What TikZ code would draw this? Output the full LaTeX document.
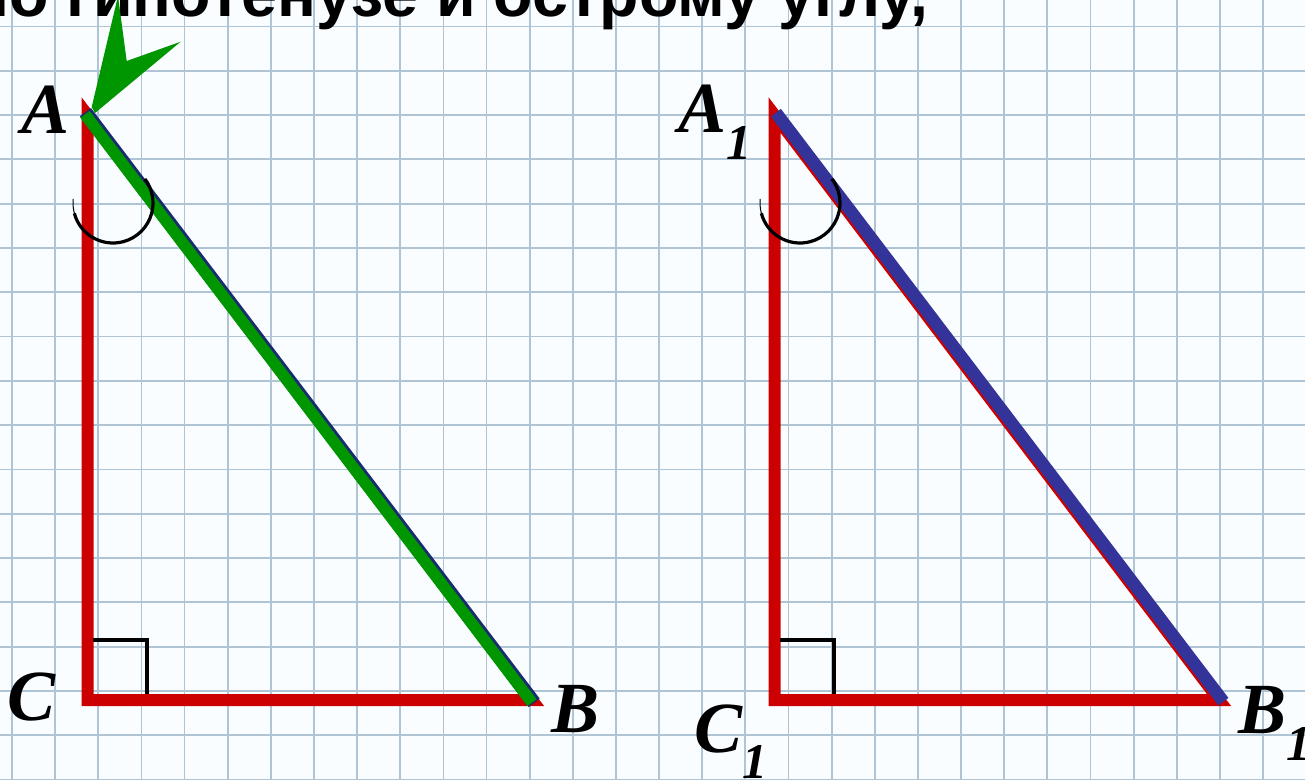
\documentclass[tikz,border=0pt]{standalone}
\usepackage{fontspec}
\setmainfont{Liberation Serif}
\newfontfamily\titlefont{Liberation Sans}
\usetikzlibrary{calc}
\definecolor{paper}{RGB}{250,253,255}
\definecolor{gridc}{RGB}{175,196,212}
\definecolor{sidered}{RGB}{204,0,0}
\definecolor{hypgreen}{RGB}{0,150,0}
\definecolor{hypnavy}{RGB}{25,45,110}
\definecolor{hypblue}{RGB}{51,51,153}
\begin{document}
\begin{tikzpicture}[x=1pt,y=-1pt,
  gridline/.style={draw=gridc, line width=1.8pt},
  side/.style={draw=sidered, line width=12pt, line join=miter, miter limit=10},
  rightmark/.style={draw=black, line width=4.5pt, line join=miter},
  anglearc/.style={draw=black, line width=3.2pt},
  anglethin/.style={draw=black, line width=1pt},
  lbl/.style={inner sep=0pt, anchor=base west, font=\fontsize{72}{72}\selectfont\bfseries\itshape},
  titletext/.style={inner sep=0pt, anchor=base west, font=\titlefont\bfseries\fontsize{64.5}{64.5}\selectfont}]
\useasboundingbox (0,0) rectangle (1305,780);
\begin{scope}
\clip (0,0) rectangle (1305,780);
\fill[paper] (0,0) rectangle (1305,780);
\foreach \i in {0,...,30} \draw[gridline] ({12+43.14*\i},0) -- ({12+43.14*\i},780);
\foreach \j in {-2,...,15} \draw[gridline] (0,{115+44.3*\j}) -- (1305,{115+44.3*\j});

\node[titletext] (title) at (-30,16) {по гипотенузе и острому углу,};

% left triangle
\coordinate (A) at (87.5,115);
\coordinate (C) at (87.5,700);
\coordinate (B) at (532,700);
\draw[side] (A) -- (C) -- (B) -- cycle;
\fill[hypgreen] (91.7,107) -- (118,-4) -- (126.7,61) -- (180.7,41.7) -- (95,113) -- cycle;
\draw[hypnavy, line width=14pt] ($(A)!-3.5pt!(B)$) -- ($(B)!-3.5pt!(A)$);
\draw[hypgreen, line width=11.5pt] ($($(A)!-2pt!(B)$)+(-1.3,1.0)$) -- ($($(B)!-2pt!(A)$)+(-1.3,1.0)$);
\draw[rightmark] (93,640) -- (147,640) -- (147,694);
\coordinate (Ac) at (113,203);
\draw[anglethin] ($(Ac)+(186:40)$) arc[start angle=186, end angle=160, radius=40];
\draw[anglearc] ($(Ac)+(165:40)$) arc[start angle=165, end angle=-37, radius=40];

% right triangle
\coordinate (A1) at (774.5,115);
\coordinate (C1) at (774.5,700);
\coordinate (B1) at (1219,700);
\draw[side] (A1) -- (C1) -- (B1) -- cycle;
\draw[hypblue, line width=12.5pt] ($($(A1)!-1pt!(B1)$)+(2,-1.5)$) -- ($($(B1)!-4pt!(A1)$)+(2,-1.5)$);
\draw[rightmark] (780,640) -- (834,640) -- (834,694);
\coordinate (A1c) at (800,203);
\draw[anglethin] ($(A1c)+(186:40)$) arc[start angle=186, end angle=160, radius=40];
\draw[anglearc] ($(A1c)+(165:40)$) arc[start angle=165, end angle=-37, radius=40];

% labels
\node[lbl] (lA) at (21,133) {A};
\node[lbl] (lB) at (551,732) {B};
\node[lbl] (lC) at (7,720) {C};
\node[lbl] (lA1) at (678,132) {A\raisebox{-27pt}{\fontsize{50}{50}\selectfont 1}};
\node[lbl] (lB1) at (1238,733) {B\raisebox{-27pt}{\fontsize{50}{50}\selectfont 1}};
\node[lbl] (lC1) at (694,752) {C\raisebox{-26pt}{\fontsize{50}{50}\selectfont 1}};
\end{scope}
\end{tikzpicture}
\end{document}
